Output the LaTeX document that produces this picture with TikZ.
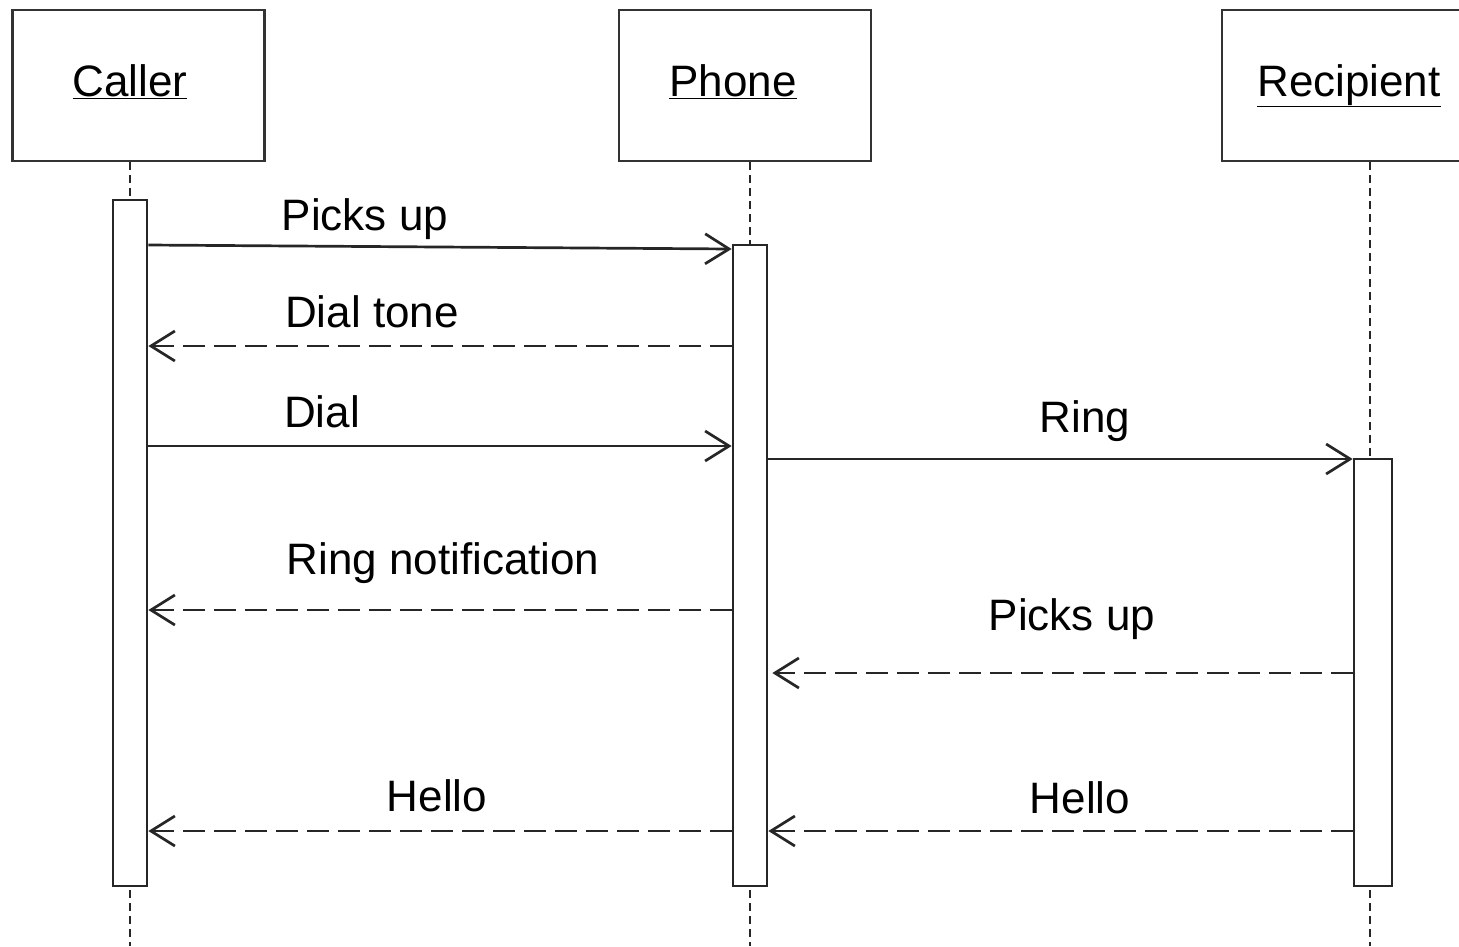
\documentclass[tikz,border=0pt]{standalone}
\usepackage{fontspec}
\setmainfont{Liberation Sans}
\usetikzlibrary{arrows.meta}
\begin{document}
\begin{tikzpicture}[x=1pt,y=-1pt,
  headbox/.style={draw=black!80,line width=2.5pt,minimum width=252pt,minimum height=151pt,inner sep=0pt},
  actbox/.style={draw=black!85,fill=white,line width=2.7pt,minimum width=34pt,inner sep=0pt},
  lifeline/.style={draw=black!85,line width=1.8pt,dash pattern=on 8pt off 5pt},
  msg/.style={draw=black!85,line width=2.7pt,-{Straight Barb[length=24pt,width=30pt,line width=2.7pt]}},
  reply/.style={msg,dash pattern=on 22pt off 9pt},
  lbl/.style={anchor=base,inner sep=0pt,font=\fontsize{44}{52}\selectfont}]
\useasboundingbox (0,0) rectangle (1459,946);
\clip (0,0) rectangle (1459,946);
% heads
\node[headbox] (hC) at (138.5,85.5) {};
\node[headbox] (hP) at (745,85.5) {};
\node[headbox] (hR) at (1348,85.5) {};
\node[lbl] (tC) at (130,96) {\underline{Caller}};
\node[lbl] (tP) at (733,96) {\underline{Phone}};
\node[lbl] (tR) at (1349,96) {\underline{Recipient}};
% lifeline ends
\coordinate (eC) at (130,946);
\coordinate (eP) at (750,946);
\coordinate (eR) at (1370,946);
\draw[lifeline] (hC.south -| eC) -- (eC);
\draw[lifeline] (hP.south -| eP) -- (eP);
\draw[lifeline] (hR.south -| eR) -- (eR);
% activations
\node[actbox,minimum height=686pt] (aC) at (130,543) {};
\node[actbox,minimum height=641pt] (aP) at (750,565.5) {};
\node[actbox,minimum height=427pt,minimum width=38pt] (aR) at (1373,672.5) {};
% messages
\draw[msg] (aC.east |- 0,245) -- (aP.west |- 0,249);
\node[lbl] (l1) at (365,230) {Picks up};
\draw[reply] (aP.west |- 0,346) -- (aC.east |- 0,346);
\node[lbl] (l2) at (372,327) {Dial tone};
\draw[msg] (aC.east |- 0,446) -- (aP.west |- 0,446);
\node[lbl] (l3) at (322,427) {Dial};
\draw[msg] (aP.east |- 0,459) -- (aR.west |- 0,459);
\node[lbl] (l4) at (1085,432) {Ring};
\draw[reply] (aP.west |- 0,610) -- (aC.east |- 0,610);
\node[lbl] (l5) at (443,574) {Ring notification};
\draw[reply] (aR.west |- 0,673) -- ([xshift=4pt]aP.east |- 0,673);
\node[lbl] (l6) at (1072,630) {Picks up};
\draw[reply] (aP.west |- 0,831) -- (aC.east |- 0,831);
\node[lbl] (l7) at (437,811) {Hello};
\draw[reply] (aR.west |- 0,831) -- (aP.east |- 0,831);
\node[lbl] (l8) at (1080,813) {Hello};
\end{tikzpicture}
\end{document}
